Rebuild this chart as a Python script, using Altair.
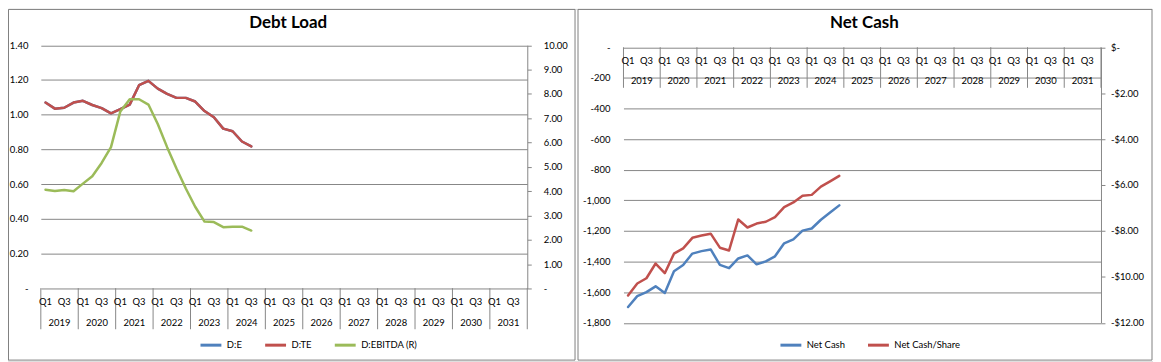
import altair as alt
import pandas as pd

# ---------------- data ----------------
years = ["2019", "2020", "2021", "2022", "2023", "2024", "2025",
         "2026", "2027", "2028", "2029", "2030", "2031"]
quarter_labels = ["Q1", "Q3"]
quarter_slots = [0, 2]          # position of Q1 / Q3 inside a year
quarters_per_year = 4

debt_series = ["D:E", "D:TE", "D:EBITDA (R)"]
d_te = [1.07, 1.035, 1.04, 1.07, 1.08, 1.056, 1.038, 1.008, 1.032, 1.058, 1.17, 1.195,
        1.15, 1.12, 1.097, 1.097, 1.076, 1.021, 0.985, 0.92, 0.905, 0.846, 0.818]
d_e = [1.07, 1.035, 1.04, 1.07, 1.08, 1.056, 1.038, 1.008, 1.032, 1.058, 1.17, 1.195,
       1.15, 1.12, 1.097, 1.097, 1.076, 1.021, 0.985, 0.92, 0.905, 0.846, 0.818]
d_ebitda = [4.06, 4.01, 4.05, 4.0, 4.31, 4.61, 5.16, 5.81, 7.28, 7.78, 7.78, 7.56,
            6.76, 5.81, 4.93, 4.11, 3.36, 2.75, 2.73, 2.52, 2.54, 2.54, 2.38]

cash_series = ["Net Cash", "Net Cash/Share"]
net_cash = [-1697, -1626, -1600, -1562, -1605, -1463, -1423, -1348, -1332, -1321, -1422, -1443,
            -1380, -1360, -1418, -1399, -1366, -1281, -1255, -1198, -1184, -1127, -1080, -1033]
net_cash_share = [-10.81, -10.29, -10.06, -9.42, -9.84, -8.99, -8.76, -8.30, -8.20, -8.12, -8.73, -8.85,
                  -7.50, -7.85, -7.68, -7.60, -7.40, -6.96, -6.76, -6.47, -6.43, -6.07, -5.84, -5.60]

titles = ["Debt Load", "Net Cash"]

debt_left_ticks = [0, 0.2, 0.4, 0.6, 0.8, 1.0, 1.2, 1.4]
debt_right_ticks = [0, 1, 2, 3, 4, 5, 6, 7, 8, 9, 10]
cash_left_ticks = [-1800, -1600, -1400, -1200, -1000, -800, -600, -400, -200, 0]
cash_right_ticks = [-12, -10, -8, -6, -4, -2, 0]

# ---------------- style ----------------
BLUE, RED, GREEN = "#4F81BD", "#C0504D", "#9BBB59"
GRID = "#868686"
BORDER = "#7F7F7F"
TEXT = "#000000"
FONT = "Lato"
FS = 9.5
W, H = 1151, 354

n_q = len(years) * quarters_per_year


def series_df(values, name):
    return pd.DataFrame({"q": [i + 0.5 for i in range(len(values))], "v": values, "s": name})


qlab_df = pd.DataFrame({
    "q": [yi * quarters_per_year + s + 0.5 for yi in range(len(years)) for s in quarter_slots],
    "t": [lab for _ in years for lab in quarter_labels],
})
year_df = pd.DataFrame({"q": [yi * quarters_per_year + quarters_per_year / 2 for yi in range(len(years))],
                        "t": years})
sep_df = pd.DataFrame({"q": [yi * quarters_per_year for yi in range(len(years) + 1)]})


def category_layers(xenc, q_y, year_y, sep_y0, sep_y1):
    seps = alt.Chart(sep_df).mark_rule(color=GRID, strokeWidth=1).encode(
        x=xenc, y=alt.value(sep_y0), y2=alt.value(sep_y1))
    qs = alt.Chart(qlab_df).mark_text(font=FONT, fontSize=FS, color=TEXT, baseline="middle",
                                      align="center").encode(x=xenc, y=alt.value(q_y), text="t:N")
    ys = alt.Chart(year_df).mark_text(font=FONT, fontSize=FS, color=TEXT, baseline="middle",
                                      align="center").encode(x=xenc, y=alt.value(year_y), text="t:N")
    return [seps, qs, ys]


def axis(orient, offset, values, expr, grid, ticks, pad):
    kw = dict(orient=orient, offset=offset, values=values, labelExpr=expr, grid=grid,
              labelFont=FONT, labelFontSize=FS, labelColor=TEXT, labelPadding=pad,
              labelFlush=False, labelOverlap=False, title=None)
    if grid:
        kw.update(gridColor=GRID, gridWidth=1)
    if ticks:
        kw.update(domain=True, domainColor=GRID, domainWidth=1, ticks=True, tickColor=GRID,
                  tickSize=4, tickWidth=1)
    else:
        kw.update(domain=False, ticks=False)
    return alt.Axis(**kw)


def legend(x, y):
    return alt.Legend(orient="none", legendX=x, legendY=y, direction="horizontal", title=None,
                      symbolType="stroke", symbolSize=441, symbolStrokeWidth=3,
                      labelFont=FONT, labelFontSize=FS, labelColor=TEXT, labelOffset=4,
                      columnPadding=16, padding=0)


line_kw = dict(strokeWidth=2.5, strokeJoin="round", strokeCap="round")

# ---------------- panel 1 : Debt Load ----------------
P1_X, P1_Y = [33, 522], [281, 36.5]
x1 = alt.X("q:Q", scale=alt.Scale(domain=[0, n_q], range=P1_X, nice=False, zero=False), axis=None)
y1l = alt.Scale(domain=[0, 1.4], range=P1_Y, nice=False)
y1r = alt.Scale(domain=[0, 10], range=P1_Y, nice=False)
col1 = alt.Color("s:N", scale=alt.Scale(domain=debt_series, range=[BLUE, RED, GREEN]),
                 legend=legend(192, 326))

ax1l = axis("left", -P1_X[0], debt_left_ticks,
            "datum.value == 0 ? '-\u00a0\u00a0' : format(datum.value, '.2f')", True, False, 13)
ax1r = axis("right", -(W - P1_X[1]), debt_right_ticks,
            "datum.value == 0 ? '-' : format(datum.value, '.2f')", False, True, 12)

l_de = alt.Chart(series_df(d_e, debt_series[0])).mark_line(**line_kw).encode(
    x=x1, y=alt.Y("v:Q", scale=y1l, axis=ax1l), color=col1)
l_dte = alt.Chart(series_df(d_te, debt_series[1])).mark_line(**line_kw).encode(
    x=x1, y=alt.Y("v:Q", scale=y1l, axis=None), color=col1)
l_eb = alt.Chart(series_df(d_ebitda, debt_series[2])).mark_line(**line_kw).encode(
    x=x1, y=alt.Y("v:Q", scale=y1r, axis=ax1r), color=col1)

panel1 = alt.layer(*category_layers(x1, 295, 315.4, 280.7, 322), l_de, l_dte, l_eb).resolve_scale(
    y="independent")

# ---------------- panel 2 : Net Cash ----------------
P2_X, P2_Y = [618.7, 1098.7], [315.5, 38.5]
x2 = alt.X("q:Q", scale=alt.Scale(domain=[0, n_q], range=P2_X, nice=False, zero=False), axis=None)
y2l = alt.Scale(domain=[-1800, 0], range=P2_Y, nice=False)
y2r = alt.Scale(domain=[-12, 0], range=P2_Y, nice=False)
col2 = alt.Color("s:N", scale=alt.Scale(domain=cash_series, range=[BLUE, RED]),
                 legend=legend(775, 326))

ax2l = axis("left", -P2_X[0], cash_left_ticks,
            "datum.value == 0 ? '-\u00a0\u00a0' : '-' + format(abs(datum.value), ',')", True, False, 13.5)
ax2r = axis("right", -(W - P2_X[1]), cash_right_ticks,
            "datum.value == 0 ? '$-' : '-$' + format(abs(datum.value), '.2f')", False, True, 5.5)

l_nc = alt.Chart(series_df(net_cash, cash_series[0])).mark_line(**line_kw).encode(
    x=x2, y=alt.Y("v:Q", scale=y2l, axis=ax2l), color=col2)
l_ncs = alt.Chart(series_df(net_cash_share, cash_series[1])).mark_line(**line_kw).encode(
    x=x2, y=alt.Y("v:Q", scale=y2r, axis=ax2r), color=col2)

panel2 = alt.layer(*category_layers(x2, 52.6, 72.2, 38.5, 79.3), l_nc, l_ncs).resolve_scale(
    y="independent")

# ---------------- decoration ----------------
border1 = alt.Chart().mark_rect(fillOpacity=0, stroke=BORDER, strokeWidth=1).encode(
    x=alt.value(0.5), x2=alt.value(570), y=alt.value(0.5), y2=alt.value(353))
border2 = alt.Chart().mark_rect(fillOpacity=0, stroke=BORDER, strokeWidth=1).encode(
    x=alt.value(573), x2=alt.value(1150), y=alt.value(0.5), y2=alt.value(353))
title1 = alt.Chart().mark_text(text=titles[0], font=FONT, fontSize=17, fontWeight="bold",
                               color=TEXT, align="center", baseline="alphabetic").encode(
    x=alt.value(281.7), y=alt.value(18.7))
title2 = alt.Chart().mark_text(text=titles[1], font=FONT, fontSize=17, fontWeight="bold",
                               color=TEXT, align="center", baseline="alphabetic").encode(
    x=alt.value(860.8), y=alt.value(18.7))

chart = alt.layer(border1, border2, title1, title2, panel1, panel2).resolve_scale(
    x="independent", y="independent", color="independent"
).properties(width=W, height=H, padding=0).configure_view(strokeWidth=0).configure(background="white")

chart.save("out.html", embed_options={"renderer": "svg", "actions": False})
